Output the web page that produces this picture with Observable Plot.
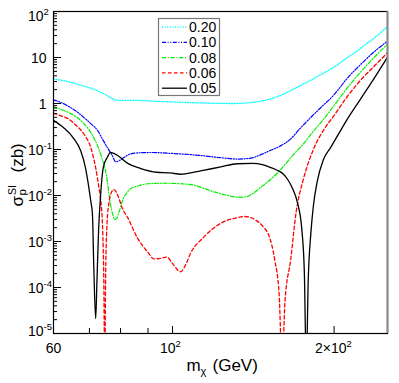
<!DOCTYPE html>
<html><head><meta charset="utf-8">
<script src="https://cdn.jsdelivr.net/npm/d3@7"></script>
<script src="https://cdn.jsdelivr.net/npm/@observablehq/plot@0.6"></script>
<style>body{margin:0;background:#fff}#chart{width:399px;height:383px}</style>
</head><body><div id="chart"></div>
<script>
// ---------- data ----------
const seriesLabels = ["0.20", "0.10", "0.08", "0.06", "0.05"];

const mass020  = [60, 63, 66, 69, 72, 75, 77, 78.5, 80, 85, 90, 100, 110, 120, 130, 140, 150, 160, 170, 180, 190, 200, 210, 220, 230, 240, 252];
const sigma020 = [3.4, 3.1, 2.7, 2.3, 1.95, 1.55, 1.3, 1.18, 1.17, 1.17, 1.14, 1.08, 1.04, 1.01, 1.0, 1.05, 1.2, 1.55, 2.2, 3.1, 4.4, 6.2, 9.3, 13.5, 20, 29, 48];

const mass010  = [60, 62, 64.5, 66.5, 68.3, 70.5, 72.5, 74, 75.6, 77.2, 78.3, 79.5, 81, 83.5, 87, 91, 100, 113, 125, 132, 140, 146, 152, 159, 166, 173, 181, 189, 200, 211, 224, 237, 252];
const sigma010 = [1.2, 1.05, 0.82, 0.65, 0.5, 0.36, 0.26, 0.17, 0.11, 0.074, 0.054, 0.057, 0.066, 0.08, 0.085, 0.086, 0.082, 0.074, 0.065, 0.062, 0.065, 0.077, 0.095, 0.12, 0.17, 0.29, 0.5, 0.82, 1.55, 3.4, 7, 13, 23];

const mass008  = [60, 62, 64.5, 66.5, 68.3, 70, 71.3, 72.5, 73.4, 74.3, 75, 75.6, 76.1, 76.6, 77.3, 78, 78.7, 79.5, 80.3, 81, 82, 83.5, 86, 90, 96, 103.5, 109, 114, 120, 126, 132, 137, 141, 146, 152, 158, 164, 170, 176, 183, 191, 200, 211, 224, 237, 252];
const sigma008 = [0.85, 0.74, 0.61, 0.49, 0.37, 0.26, 0.18, 0.12, 0.081, 0.052, 0.035, 0.02, 0.011, 0.0065, 0.004, 0.003, 0.0032, 0.0044, 0.0065, 0.0088, 0.011, 0.014, 0.016, 0.018, 0.0185, 0.018, 0.017, 0.0145, 0.0118, 0.0102, 0.0092, 0.0093, 0.011, 0.015, 0.022, 0.034, 0.056, 0.09, 0.14, 0.25, 0.45, 0.9, 2.1, 4.8, 9.8, 20];

const mass006  = [60, 62, 63.8, 66, 68.3, 70.4, 71.9, 72.9, 73.4, 74.1, 74.45, 74.75, 75.05, 75.5, 76.2, 77, 77.7, 78.5, 79.5, 80.5, 82.5, 86, 90, 92.3, 95, 97.6, 100, 103.5, 106, 108, 114, 123, 132, 136, 143, 148, 151, 155, 158, 160, 162, 166, 170, 175, 183, 191, 200, 211, 224, 237, 252];
const sigma006 = [0.62, 0.54, 0.47, 0.34, 0.22, 0.11, 0.04, 0.015, 0.009, 0.0017, 0.00015, 0.000002, 0.0002, 0.0025, 0.0075, 0.012, 0.0135, 0.012, 0.0085, 0.0055, 0.0033, 0.0012, 0.00058, 0.00042, 0.00043, 0.00046, 0.00033, 0.00022, 0.00033, 0.00055, 0.0012, 0.0025, 0.0033, 0.0035, 0.0029, 0.002, 0.0014, 0.0004, 0.00007, 0.000002, 0.00005, 0.0004, 0.0045, 0.021, 0.1, 0.26, 0.55, 1.35, 3.2, 6.3, 13];

const mass005  = [60, 62.6, 65.3, 67.4, 68.8, 69.5, 70.4, 70.9, 71.3, 71.9, 72.3, 72.8, 73.4, 74.3, 75.6, 76.6, 77.5, 79, 82.5, 87, 93.5, 99, 103.5, 108, 114, 123, 132, 141, 147, 152, 157, 161, 164, 167, 171, 174, 176, 177.5, 179, 181, 183, 186, 191, 197, 203, 211, 224, 237, 244, 252];
const sigma005 = [0.43, 0.30, 0.18, 0.095, 0.041, 0.021, 0.0076, 0.0041, 0.00033, 0.000021, 0.00014, 0.0017, 0.0093, 0.041, 0.068, 0.087, 0.083, 0.074, 0.05, 0.039, 0.032, 0.031, 0.029, 0.031, 0.035, 0.042, 0.049, 0.05, 0.047, 0.041, 0.035, 0.029, 0.022, 0.015, 0.0068, 0.002, 0.00023, 0.000002, 0.00015, 0.0015, 0.006, 0.02, 0.06, 0.11, 0.2, 0.43, 1.25, 3.4, 5.8, 10.5];

const xDomain = [60, 251.5];
const yDomain = [1e-5, 100];
const xMinorTicks = [70, 80, 90];
const xMajorTicks = [100, 200];
const xLabelValues = [60, 100, 200];
const xLabelBase = ["60", "10", "2×10"];
const xLabelExp = ["", "2", "2"];
const yDecades = [1e-5, 1e-4, 1e-3, 1e-2, 1e-1, 1, 10, 100];
const yLabelBase = ["10", "10", "10", "10", "10", "1", "10", "10"];
const yLabelExp = ["-5", "-4", "-3", "-2", "-1", "", "", "2"];

// ---------- styles ----------
const styles = [
  {stroke: "#00ffff", dash: "1 1.6", width: 1.3},
  {stroke: "#0000ff", dash: "4 1.6 1 1.6 1 1.6", width: 1.2},
  {stroke: "#00ee00", dash: "4 1.8 1 1.8", width: 1.2},
  {stroke: "#ff0000", dash: "3.5 2.5", width: 1.3},
  {stroke: "#000000", dash: null, width: 1.3}
];
const masses = [mass020, mass010, mass008, mass006, mass005];
const sigmas = [sigma020, sigma010, sigma008, sigma006, sigma005];

const W = 399, H = 383, mL = 53, mR = 12, mT = 11, mB = 50;
const frameW = W - mL - mR, frameH = H - mT - mB;
const font = "'Liberation Sans', Arial, Helvetica, sans-serif";

const curveMarks = seriesLabels.map((lab, i) => {
  const rows = masses[i].map((m, j) => ({m, s: sigmas[i][j]}));
  return Plot.line(rows, {x: "m", y: "s", stroke: styles[i].stroke, strokeWidth: styles[i].width,
    strokeDasharray: styles[i].dash, curve: "monotone-x", clip: true});
});

// tick labels with superscript exponents
const labelMarks = [];
yDecades.forEach((v, i) => {
  const tweak = v === yDomain[1] ? 4 : (v === yDomain[0] ? -3 : 0);
  if (yLabelExp[i]) {
    labelMarks.push(Plot.text([v], {y: d => d, frameAnchor: "left", text: () => yLabelBase[i], textAnchor: "end", dx: -10, dy: tweak + 1, fontSize: 14}));
    labelMarks.push(Plot.text([v], {y: d => d, frameAnchor: "left", text: () => yLabelExp[i], textAnchor: "start", dx: -10, dy: tweak - 4, fontSize: 9.5}));
  } else {
    labelMarks.push(Plot.text([v], {y: d => d, frameAnchor: "left", text: () => yLabelBase[i], textAnchor: "end", dx: -7, dy: 1, fontSize: 14}));
  }
});
xLabelValues.forEach((v, i) => {
  if (xLabelExp[i]) {
    const off = xLabelBase[i].length > 2 ? 12.5 : 3;
    labelMarks.push(Plot.text([v], {x: d => d, frameAnchor: "bottom", text: () => xLabelBase[i], textAnchor: "end", lineAnchor: "bottom", dx: off, dy: 19, fontSize: 14}));
    labelMarks.push(Plot.text([v], {x: d => d, frameAnchor: "bottom", text: () => xLabelExp[i], textAnchor: "start", lineAnchor: "bottom", dx: off, dy: 13, fontSize: 9.5}));
  } else {
    labelMarks.push(Plot.text([v], {x: d => d, frameAnchor: "bottom", text: () => xLabelBase[i], textAnchor: "middle", lineAnchor: "bottom", dy: 19, fontSize: 14}));
  }
});

// axis titles
const titleMarks = [
  Plot.text(["m"], {frameAnchor: "bottom", text: d => d, textAnchor: "start", lineAnchor: "bottom", dx: -34, dy: 37, fontSize: 17}),
  Plot.text(["χ"], {frameAnchor: "bottom", text: d => d, textAnchor: "start", lineAnchor: "bottom", dx: -20, dy: 41, fontSize: 11}),
  Plot.text(["(GeV)"], {frameAnchor: "bottom", text: d => d, textAnchor: "start", lineAnchor: "bottom", dx: -8, dy: 37, fontSize: 17}),
  Plot.text(["σ"], {frameAnchor: "left", text: d => d, textAnchor: "start", lineAnchor: "bottom", rotate: -90, dx: -31, dy: 34, fontSize: 17}),
  Plot.text(["p"], {frameAnchor: "left", text: d => d, textAnchor: "start", lineAnchor: "bottom", rotate: -90, dx: -28, dy: 23, fontSize: 11.5}),
  Plot.text(["SI"], {frameAnchor: "left", text: d => d, textAnchor: "start", lineAnchor: "bottom", rotate: -90, dx: -37.5, dy: 22.5, fontSize: 10.5}),
  Plot.text(["(zb)"], {frameAnchor: "left", text: d => d, textAnchor: "start", lineAnchor: "bottom", rotate: -90, dx: -31, dy: 0, fontSize: 17})
];

// legend (drawn inside the frame)
function legendMark() {
  const g = d3.create("svg:g");
  const bx = 158.5, by = 18.5, bw = 61, bh = 77;
  g.append("rect").attr("x", bx).attr("y", by).attr("width", bw).attr("height", bh)
    .attr("fill", "white").attr("stroke", "#777").attr("stroke-width", 1.2);
  seriesLabels.forEach((lab, i) => {
    const yy = 27 + i * 15.3;
    g.append("line").attr("x1", 162).attr("x2", 187).attr("y1", yy).attr("y2", yy)
      .attr("stroke", styles[i].stroke).attr("stroke-width", styles[i].width)
      .attr("stroke-dasharray", styles[i].dash);
    g.append("text").attr("x", 189).attr("y", yy).attr("dy", "0.36em")
      .attr("text-anchor", "start")
      .attr("font-size", 14).attr("font-family", font).attr("fill", "black").text(lab);
  });
  return g.node();
}

const chart = Plot.plot({
  width: W, height: H,
  marginLeft: mL, marginRight: mR, marginTop: mT, marginBottom: mB,
  x: {type: "log", domain: xDomain, axis: null},
  y: {type: "log", domain: yDomain, axis: null},
  style: {fontFamily: font, background: "white", color: "black"},
  marks: [
    ...curveMarks,
    Plot.frame({stroke: "black", strokeWidth: 1.2}),
    Plot.ruleX([xDomain[1]], {stroke: "#8a8a8a", strokeWidth: 2}),
    Plot.ruleX(xMinorTicks, {stroke: "black", insetTop: frameH - 5}),
    Plot.ruleX(xMajorTicks, {stroke: "black", insetTop: frameH - 7}),
    Plot.ruleY(yDecades, {stroke: "black", insetRight: frameW - 8}),
    Plot.ruleY(yDecades.slice(0, -1).flatMap(d => [2,3,4,5,6,7,8,9].map(k => d * k)), {stroke: "black", insetRight: frameW - 4}),
    ...labelMarks,
    ...titleMarks,
    legendMark
  ]
});
document.getElementById("chart").appendChild(chart);
</script></body></html>
